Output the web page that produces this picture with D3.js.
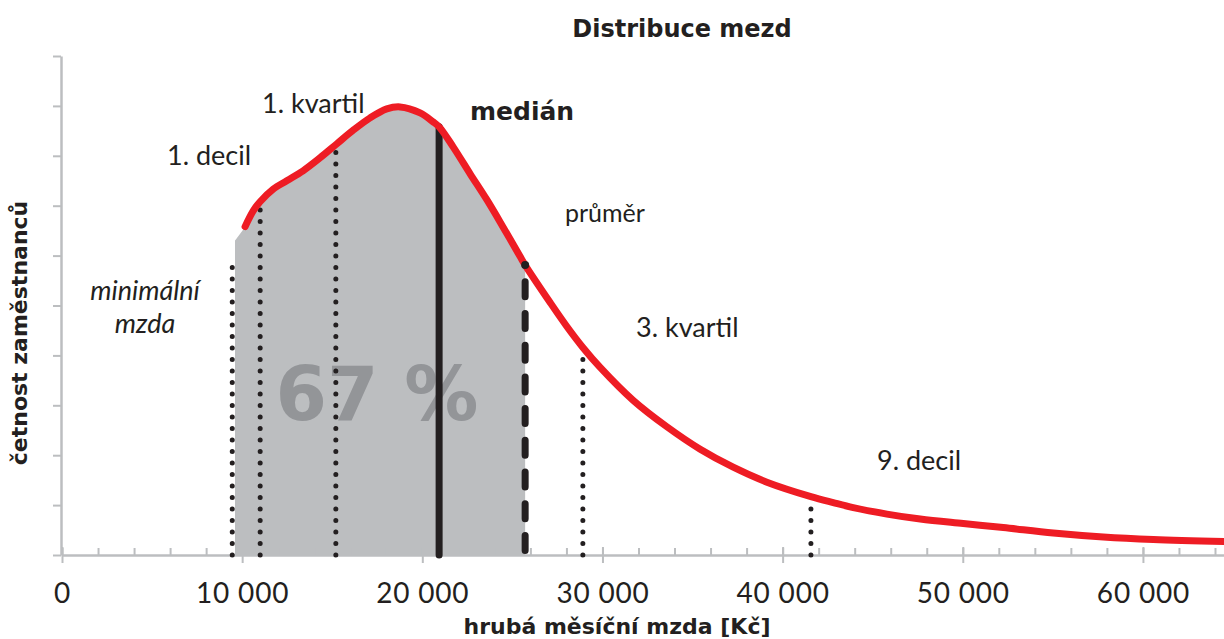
<!DOCTYPE html>
<html><head><meta charset="utf-8">
<script src="https://cdn.jsdelivr.net/npm/d3@7"></script>
<style>
html,body{margin:0;padding:0;background:#fff;}
svg{display:block;font-family:Lato,"Open Sans",sans-serif;}
</style></head>
<body><svg id="c" width="1224" height="639"></svg>
<script>
// ---- data ----
const salary  = [10161,10622,10994,11716,12477,13381,14325,15253,16158,17102,18029,18767,19878,20600,20933,21710,22654,23581,24486,25430,25708,27096,28023,28912,29872,31705,33576,35425,37257,39128,41571,42810,43920,45791,47640,50028,52249,55025,57801,60577,64520];
const density = [6.58,6.90,7.08,7.33,7.50,7.70,7.96,8.24,8.51,8.76,8.94,8.98,8.86,8.68,8.58,8.18,7.64,7.12,6.57,5.98,5.81,5.06,4.58,4.16,3.76,3.10,2.57,2.12,1.76,1.46,1.17,1.05,0.95,0.82,0.72,0.63,0.55,0.44,0.36,0.31,0.27];
const areaStart = [9600, 6.30];           // left edge of shaded area
const minWage = 9450, minWageTop = 5.8;
const dotMarkers = [11000, 15200, 28912, 41571]; // 1. decil, 1. kvartil, 3. kvartil, 9. decil
const median = 20933, mean = 25708;
const xTicks = [0,10000,20000,30000,40000,50000,60000];
const xMinorTicks = d3.range(0, 64001, 2000);
const yTicks = d3.range(0, 11, 1);
const share = "67 %";

// ---- scales ----
const svg = d3.select("#c");
const x = d3.scaleLinear().domain([0, 64500]).range([62, 1224]);
const y = d3.scaleLinear().domain([0, 10]).range([555, 56]);
const pts = salary.map((s,i)=>[s, density[i]]);
const curveAt = v => { const i = d3.bisector(d=>d[0]).left(pts, v);
  const a = pts[Math.max(0,i-1)], b = pts[Math.min(pts.length-1,i)];
  if (a[0]===b[0]) return a[1]; return a[1] + (b[1]-a[1])*(v-a[0])/(b[0]-a[0]); };

const ink = "#231f20", axisCol = "#bcbec0";
const boldFont = "'DejaVu Sans', sans-serif";
const smooth = d3.curveCatmullRom.alpha(0.5);

// shaded area
svg.append("clipPath").attr("id","clip").append("rect")
  .attr("x", x(areaStart[0])).attr("y", 0).attr("width", x(mean)-x(areaStart[0])).attr("height", 600);
svg.append("path").datum([areaStart, ...pts])
  .attr("clip-path","url(#clip)")
  .attr("fill","#bcbec0")
  .attr("d", d3.area().x(d=>x(d[0])).y0(y(0)).y1(d=>y(d[1])).curve(smooth));

// big share text
svg.append("text").text(share).attr("x", 377).attr("y", 420)
  .attr("text-anchor","middle").attr("font-size", 74).attr("font-weight", 700)
  .attr("font-family", boldFont).attr("fill","#939598");

// axes
const fmt = d3.formatLocale({decimal:",", thousands:"\u00a0", grouping:[3], currency:["","Kč"]}).format(",");
const gx = svg.append("g").attr("transform", `translate(0,${y(0)})`);
gx.call(d3.axisBottom(x).tickValues(xMinorTicks).tickSize(-7).tickFormat(""));
gx.call(g=>g.select(".domain").remove());
const gx2 = svg.append("g").attr("transform", `translate(0,${y(0)})`)
  .call(d3.axisBottom(x).tickValues(xTicks).tickSize(8).tickSizeOuter(0).tickFormat(fmt).tickPadding(20));
gx2.selectAll(".tick line").attr("y1", -8);
svg.selectAll("g .tick line").attr("stroke", axisCol).attr("stroke-width", 2);
gx2.select(".domain").attr("stroke", axisCol).attr("stroke-width", 2.5);
gx2.selectAll(".tick text").attr("font-size", 28).attr("letter-spacing", 0.8)
  .attr("fill", ink).attr("font-family","Lato");

const gy = svg.append("g").attr("transform", `translate(${x(0)-1},0)`)
  .call(d3.axisLeft(y).tickValues(yTicks).tickSize(8).tickSizeOuter(0).tickFormat(""));
gy.select(".domain").attr("stroke", axisCol).attr("stroke-width", 2.5);
gy.selectAll(".tick line").attr("stroke", axisCol).attr("stroke-width", 2);

// marker lines
const vline = (v, top) => `M${x(v)},${y(0)}V${y(top)}`;
svg.append("path").attr("d", vline(minWage, minWageTop))
  .attr("stroke", ink).attr("stroke-width", 5).attr("stroke-linecap","round").attr("stroke-dasharray","0 11.5");
dotMarkers.forEach(v=>{
  svg.append("path").attr("d", vline(v, curveAt(v)-0.05))
    .attr("stroke", ink).attr("stroke-width", 5).attr("stroke-linecap","round").attr("stroke-dasharray","0 11.5");
});
svg.append("path").attr("d", `M${x(median)},${y(0)}V${y(curveAt(median))}`)
  .attr("stroke", ink).attr("stroke-width", 7).attr("stroke-linecap","round");

// red curve
svg.append("path").datum(pts).attr("fill","none").attr("stroke","#ee1c24").attr("stroke-width", 7)
  .attr("stroke-linecap","round")
  .attr("d", d3.line().x(d=>x(d[0])).y(d=>y(d[1])).curve(smooth));

// mean marker (dashed) drawn above curve
svg.append("path").attr("d", `M${x(mean)},${y(curveAt(mean))}V${y(0)}`)
  .attr("stroke", ink).attr("stroke-width", 7).attr("stroke-linecap","round")
  .attr("stroke-dasharray","15 16.7").attr("stroke-dashoffset", 15);
svg.append("circle").attr("cx", x(mean)).attr("cy", y(curveAt(mean))).attr("r", 4).attr("fill", ink);

// labels
const lab = (t, xx, yy, opt={}) => svg.append("text").text(t).attr("x", xx).attr("y", yy)
  .attr("font-size", opt.size||27).attr("fill", ink).attr("font-weight", opt.w||400)
  .attr("font-family", opt.f||"Lato")
  .attr("font-style", opt.s||"normal").attr("text-anchor", opt.a||"start");
lab("Distribuce mezd", 682, 37, {size:24, w:700, a:"middle", f:boldFont});
lab("1. decil", 167, 165);
lab("1. kvartil", 262, 113);
lab("medián", 470, 120, {size:25, w:700, f:boldFont});
lab("průměr", 565, 222, {size:25});
lab("3. kvartil", 636, 337);
lab("9. decil", 877, 470);
lab("minimální", 145, 300, {s:"italic", a:"middle"});
lab("mzda", 145, 333, {s:"italic", a:"middle"});
lab("hrubá měsíční mzda [Kč]", 617, 634, {size:22, w:700, a:"middle", f:boldFont});
svg.append("text").text("četnost zaměstnanců")
  .attr("transform","translate(27,333) rotate(-90)").attr("text-anchor","middle")
  .attr("font-family", boldFont)
  .attr("font-size", 22).attr("font-weight", 700).attr("fill", ink);
</script></body></html>
